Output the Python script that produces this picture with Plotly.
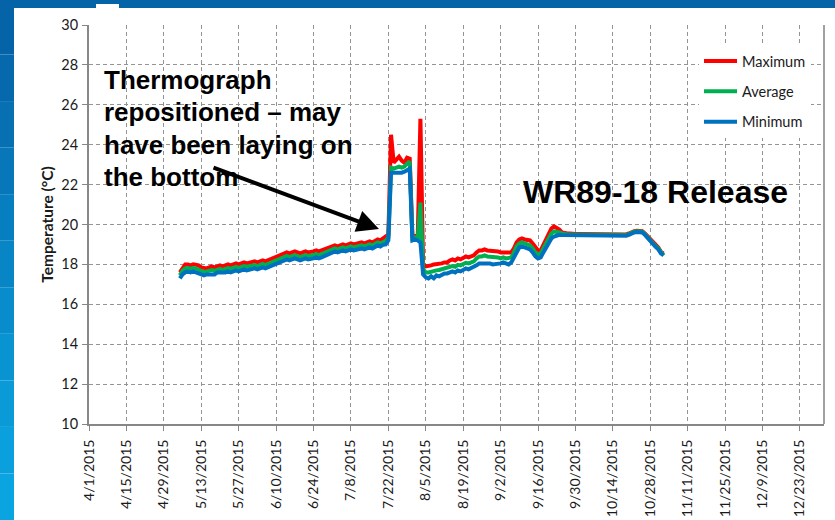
import plotly.graph_objects as go
import pandas as pd

# ---------------- data (daily thermograph readings, °C) ----------------
START_DATE = "2015-05-05"

max_may = [17.6, 17.85, 18.0, 18.0, 17.95, 18.0, 18.0, 17.95, 17.85, 17.8, 17.8, 17.85, 17.9, 17.85,
           17.9, 17.95, 17.9, 17.95, 18.0, 17.95, 18.0, 18.05, 18.0, 18.05, 18.1, 18.05, 18.1]
avg_may = [17.45, 17.68, 17.8, 17.82, 17.78, 17.82, 17.8, 17.75, 17.68, 17.62, 17.65, 17.68, 17.72, 17.68,
           17.75, 17.78, 17.72, 17.78, 17.82, 17.78, 17.82, 17.88, 17.82, 17.88, 17.92, 17.88, 17.92]
min_may = [17.3, 17.5, 17.6, 17.65, 17.6, 17.65, 17.6, 17.55, 17.5, 17.45, 17.5, 17.5, 17.55, 17.5,
           17.6, 17.6, 17.55, 17.6, 17.65, 17.6, 17.65, 17.7, 17.65, 17.7, 17.75, 17.7, 17.75]

max_jun = [18.1, 18.15, 18.1, 18.15, 18.2, 18.15, 18.2, 18.25, 18.3, 18.4,
           18.45, 18.5, 18.55, 18.6, 18.55, 18.6, 18.65, 18.6, 18.55, 18.6,
           18.65, 18.6, 18.6, 18.65, 18.7, 18.65, 18.7, 18.75, 18.8, 18.85]
avg_jun = [17.92, 17.97, 17.92, 17.97, 18.02, 17.97, 18.02, 18.07, 18.12, 18.22,
           18.27, 18.32, 18.37, 18.42, 18.37, 18.42, 18.47, 18.42, 18.37, 18.42,
           18.47, 18.42, 18.42, 18.47, 18.52, 18.47, 18.52, 18.57, 18.62, 18.67]
min_jun = [17.75, 17.8, 17.75, 17.8, 17.85, 17.8, 17.85, 17.9, 17.95, 18.05,
           18.1, 18.15, 18.2, 18.25, 18.2, 18.25, 18.3, 18.25, 18.2, 18.25,
           18.3, 18.25, 18.25, 18.3, 18.35, 18.3, 18.35, 18.4, 18.45, 18.5]

max_jul = [18.9, 18.95, 18.9, 18.97, 19.0, 18.95, 19.0, 19.05, 19.0, 19.05, 19.07, 19.1, 19.05, 19.1,
           19.15, 19.1, 19.2, 19.25, 19.2, 19.3, 19.35,
           19.5, 24.5, 23.1, 23.25, 23.4, 23.2, 23.1, 23.35, 23.3, 19.45]
avg_jul = [18.75, 18.8, 18.75, 18.8, 18.85, 18.8, 18.85, 18.9, 18.85, 18.9, 18.92, 18.95, 18.9, 18.95,
           19.0, 18.95, 19.05, 19.1, 19.05, 19.14, 19.18,
           19.35, 22.85, 22.8, 22.85, 22.9, 22.85, 22.9, 23.05, 23.15, 19.3]
min_jul = [18.6, 18.65, 18.6, 18.65, 18.7, 18.65, 18.7, 18.75, 18.7, 18.75, 18.78, 18.8, 18.75, 18.8,
           18.85, 18.8, 18.9, 18.95, 18.9, 18.98, 19.0,
           19.2, 22.6, 22.6, 22.55, 22.6, 22.6, 22.65, 22.75, 22.8, 19.2]

max_aug = [19.45, 19.4, 25.3, 18.0, 17.9, 17.9, 17.95, 18.0, 18.0, 18.05,
           18.05, 18.1, 18.1, 18.2, 18.25, 18.2, 18.3, 18.25, 18.3, 18.4,
           18.35, 18.4, 18.45, 18.6, 18.7, 18.7, 18.75, 18.7, 18.7, 18.65, 18.65]
avg_aug = [19.35, 19.3, 21.1, 17.75, 17.6, 17.6, 17.65, 17.65, 17.7, 17.72,
           17.75, 17.8, 17.82, 17.88, 17.92, 17.88, 17.98, 17.95, 18.0, 18.08,
           18.05, 18.1, 18.15, 18.3, 18.4, 18.4, 18.45, 18.4, 18.4, 18.35, 18.35]
min_aug = [19.25, 19.2, 19.1, 17.5, 17.35, 17.3, 17.4, 17.3, 17.45, 17.4,
           17.5, 17.55, 17.55, 17.6, 17.65, 17.6, 17.7, 17.65, 17.7, 17.8,
           17.75, 17.8, 17.85, 17.95, 18.05, 18.05, 18.1, 18.05, 18.05, 18.0, 18.0]

max_sep = [18.65, 18.6, 18.6, 18.6, 18.55, 18.6, 18.8, 19.1, 19.25, 19.3,
           19.25, 19.25, 19.2, 19.05, 18.85, 18.7, 18.7, 19.0, 19.3, 19.6,
           19.8, 19.9, 19.85, 19.75, 19.6, 19.55, 19.55, 19.55, 19.52, 19.52]
avg_sep = [18.35, 18.3, 18.35, 18.3, 18.3, 18.35, 18.6, 18.9, 19.05, 19.1,
           19.05, 19.0, 18.95, 18.8, 18.6, 18.5, 18.55, 18.8, 19.05, 19.35,
           19.55, 19.65, 19.65, 19.6, 19.55, 19.5, 19.5, 19.5, 19.5, 19.5]
min_sep = [18.05, 18.05, 18.1, 18.05, 18.0, 18.1, 18.35, 18.7, 18.85, 18.9,
           18.85, 18.8, 18.75, 18.6, 18.4, 18.3, 18.35, 18.6, 18.85, 19.1,
           19.3, 19.4, 19.45, 19.48, 19.47, 19.47, 19.46, 19.46, 19.45, 19.45]

max_oct = [19.52, 19.52, 19.5, 19.52, 19.5, 19.5, 19.52, 19.5, 19.5, 19.48,
           19.5, 19.5, 19.48, 19.5, 19.5, 19.48, 19.5, 19.52, 19.5, 19.55,
           19.62, 19.66, 19.68, 19.68, 19.66, 19.55, 19.4, 19.25, 19.1, 18.97, 18.85]
avg_oct = [19.49, 19.49, 19.47, 19.49, 19.47, 19.47, 19.49, 19.47, 19.47, 19.45,
           19.47, 19.47, 19.45, 19.47, 19.47, 19.45, 19.47, 19.49, 19.47, 19.52,
           19.6, 19.64, 19.66, 19.66, 19.64, 19.52, 19.36, 19.2, 19.05, 18.92, 18.8]
min_oct = [19.45, 19.46, 19.44, 19.45, 19.44, 19.44, 19.45, 19.43, 19.44, 19.42,
           19.44, 19.43, 19.42, 19.43, 19.43, 19.42, 19.43, 19.45, 19.44, 19.48,
           19.56, 19.6, 19.62, 19.62, 19.6, 19.48, 19.32, 19.15, 19.0, 18.88, 18.75]

max_nov = [18.62, 18.55]
avg_nov = [18.58, 18.45]
min_nov = [18.55, 18.47]

series_names = ["Maximum", "Average", "Minimum"]
series_colors = ["#FF0000", "#00B050", "#0070C0"]

tick_labels = ["4/1/2015", "4/15/2015", "4/29/2015", "5/13/2015", "5/27/2015", "6/10/2015",
               "6/24/2015", "7/8/2015", "7/22/2015", "8/5/2015", "8/19/2015", "9/2/2015",
               "9/16/2015", "9/30/2015", "10/14/2015", "10/28/2015", "11/11/2015",
               "11/25/2015", "12/9/2015", "12/23/2015"]
y_ticks = [10, 12, 14, 16, 18, 20, 22, 24, 26, 28, 30]

# ---------------- build ----------------
t_max = max_may + max_jun + max_jul + max_aug + max_sep + max_oct + max_nov
t_avg = avg_may + avg_jun + avg_jul + avg_aug + avg_sep + avg_oct + avg_nov
t_min = min_may + min_jun + min_jul + min_aug + min_sep + min_oct + min_nov
dates = pd.date_range(START_DATE, periods=len(t_max), freq="D")
tick_vals = [pd.Timestamp(f"{s.split('/')[2]}-{int(s.split('/')[0]):02d}-{int(s.split('/')[1]):02d}")
             for s in tick_labels]

W, H = 835, 520
ML, MR, MT, MB = 89, 11, 25, 96
PW, PH = W - ML - MR, H - MT - MB


def px(x):
    return (x - ML) / PW


def py(y):
    return (H - MB - y) / PH


fig = go.Figure()
for name, vals, col in zip(series_names, [t_max, t_avg, t_min], series_colors):
    fig.add_trace(go.Scatter(x=dates, y=vals, mode="lines", name=name, legendgroup=name,
                             line=dict(color=col, width=4)))

FONT = "Lato, 'Open Sans', sans-serif"
GRID = "#949494"
AX = "#878787"

fig.update_layout(
    width=W, height=H,
    margin=dict(l=ML, r=MR, t=MT, b=MB, pad=0, autoexpand=False),
    paper_bgcolor="white", plot_bgcolor="white",
    font=dict(family=FONT, color="#1a1a1a"),
    showlegend=True,
    legend=dict(x=px(699), y=py(45), xanchor="left", yanchor="top", bgcolor="white",
                font=dict(family=FONT, size=14.5, color="#1a1a1a"), tracegroupgap=8.5,
                itemwidth=33),
    xaxis=dict(type="date", range=["2015-04-01", "2016-01-01"], tickvals=tick_vals,
               ticktext=tick_labels, tickangle=-90, tickfont=dict(size=14, family=FONT),
               ticklabelstandoff=3, automargin=False,
               showgrid=True, gridcolor=GRID, griddash="4px,3px", gridwidth=1,
               showline=True, linecolor=AX, linewidth=2, ticks="outside", ticklen=5,
               tickcolor=AX, zeroline=False),
    yaxis=dict(range=[10, 30], tickvals=y_ticks, tickfont=dict(size=14.5, family=FONT),
               ticklabelstandoff=1, automargin=False,
               showgrid=True, gridcolor=GRID, griddash="4px,3px", gridwidth=1,
               showline=True, linecolor=AX, linewidth=2, ticks="outside", ticklen=5,
               tickcolor=AX, zeroline=False,
               title=dict(text="Temperature (°C)", standoff=4,
                          font=dict(family=FONT, size=15.5, weight="bold", color="#1a1a1a"))),
)

shapes = []
# slide background: top band and left gradient band
shapes.append(dict(type="rect", xref="paper", yref="paper", x0=px(0), x1=px(W), y0=py(0), y1=py(8),
                   fillcolor="#0563A8", line=dict(width=0), layer="below"))
grad = ["#0563A8", "#0669AD", "#0670B3", "#0777B9", "#077EBF", "#0885C5", "#088CCB",
        "#0993D1", "#099AD7", "#0AA0DD", "#0AA5E1"]
n = len(grad)
for i, c in enumerate(grad):
    shapes.append(dict(type="rect", xref="paper", yref="paper", x0=px(0), x1=px(14),
                       y0=py(8 + (H - 8) * i / n), y1=py(8 + (H - 8) * (i + 1) / n),
                       fillcolor=c, line=dict(width=0), layer="below"))
shapes.append(dict(type="rect", xref="paper", yref="paper", x0=px(96), x1=px(119), y0=py(4), y1=py(8),
                   fillcolor="white", line=dict(width=0), layer="below"))
# right border of plot area
shapes.append(dict(type="line", xref="paper", yref="paper", x0=1, x1=1, y0=0, y1=1,
                   line=dict(color="#a0a0a0", width=2)))
# white text-box backgrounds (cover gridlines only)
shapes.append(dict(type="rect", xref="paper", yref="paper", x0=px(100), x1=px(358), y0=py(68), y1=py(190),
                   fillcolor="white", line=dict(width=0), layer="between"))
shapes.append(dict(type="rect", xref="paper", yref="paper", x0=px(518), x1=px(796), y0=py(172), y1=py(212),
                   fillcolor="white", line=dict(width=0), layer="between"))
fig.update_layout(shapes=shapes)

note_lines = ["Thermograph", "repositioned \u2013 may", "have been laying on", "the bottom"]
note_y = [80, 112, 145, 177]
for txt, yy in zip(note_lines, note_y):
    fig.add_annotation(x=px(102), y=py(yy), xref="paper", yref="paper", text=txt, showarrow=False,
                       xanchor="left", yanchor="middle",
                       font=dict(family="Liberation Sans, Arial, sans-serif", size=26, color="black",
                                 weight="bold"))

fig.add_annotation(x=px(521), y=py(192), xref="paper", yref="paper", text="WR89-18 Release",
                   showarrow=False, xanchor="left", yanchor="middle",
                   font=dict(family="Liberation Sans, Arial, sans-serif", size=32, color="black",
                             weight="bold"))

# arrow
fig.add_annotation(x=px(379), y=py(229), xref="paper", yref="paper", text="", showarrow=True,
                   ax=212 - 379, ay=167 - 229, arrowhead=2, arrowsize=1.1, arrowwidth=4,
                   arrowcolor="black", standoff=0)

fig.write_html("out.html", config={"displayModeBar": False},
               post_script="document.body.style.margin='0';document.body.style.overflow='hidden';")
